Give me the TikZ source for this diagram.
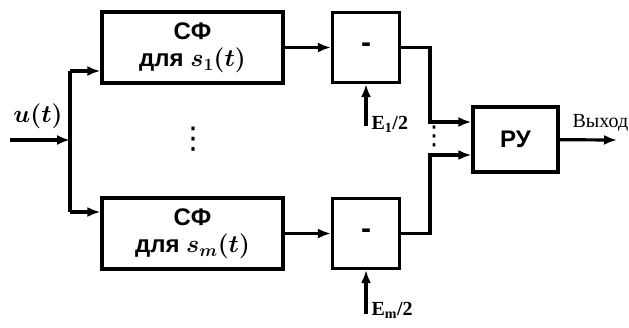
\documentclass[tikz,border=0pt]{standalone}
\usepackage{bm}
\usepackage{fontspec}
\setmainfont{Liberation Serif}
\setsansfont{Liberation Sans}
\newfontfamily\symfont{DejaVu Sans}
\usetikzlibrary{arrows.meta}

\begin{document}
\begin{tikzpicture}[x=1pt,y=-1pt,
  line width=3.2pt,
  arr/.style={-{Latex[length=13pt,width=10pt]}},
  block/.style={draw, rectangle, align=center, inner sep=0pt,
    font=\fontsize{24}{27}\selectfont\sffamily\bfseries},
  lbl/.style={font=\fontsize{20}{22}\selectfont\bfseries, inner sep=1pt}]

\useasboundingbox (0,0) rectangle (629,327);

% Matched filters
\node[block, minimum width=181pt, minimum height=71pt] (sf1) at (192.5,47.5) {СФ\\для $\bm{s_1(t)}$};
\node[block, minimum width=181pt, minimum height=71pt] (sfm) at (192.5,233.5) {СФ\\для $\bm{s_m(t)}$};

% Subtractors
\node[block, minimum width=67pt, minimum height=70pt, font=\fontsize{30}{30}\selectfont\sffamily\bfseries] (sub1) at (366,47.5) {-};
\node[block, minimum width=67pt, minimum height=70pt, font=\fontsize{30}{30}\selectfont\sffamily\bfseries] (subm) at (366,233.5) {-};

% Decision device
\node[block, minimum width=85pt, minimum height=65pt] (ru) at (515.5,139.5) {РУ};

% Input and branching
\coordinate (in) at (10,140);
\coordinate (br) at (70,140);
\coordinate (br1) at (70,71);
\coordinate (brm) at (70,212);
\node[font=\fontsize{24}{28}\selectfont] (u) at (38,116) {$\bm{u(t)}$};
\draw[arr] (in) -- (br);
\draw (br1) -- (brm);
\draw[arr] (br1) -- (br1 -| sf1.west);
\draw[arr] (brm) -- (brm -| sfm.west);

% Filter outputs
\draw[arr] (sf1) -- (sub1);
\draw[arr] (sfm) -- (subm);

% Thresholds
\coordinate (e1) at (366,126);
\coordinate (em) at (366,314);
\draw[arr] (e1) -- (sub1.south);
\draw[arr] (em) -- (subm.south);
\node[lbl, anchor=west] (e1l) at (369,124) {E\textsubscript{1}/2};
\node[lbl, anchor=west] (eml) at (369,310) {E\textsubscript{m}/2};

% To decision device
\coordinate (j1) at (430,122);
\coordinate (jm) at (430,155);
\draw[arr] (sub1.east) -| (j1) -- (j1 -| ru.west);
\draw[arr] (subm.east) -| (jm) -- (jm -| ru.west);

% Dots
\node[font=\fontsize{30}{30}\selectfont\symfont] (dots1) at (193,139) {⋮};
\node[font=\fontsize{26}{26}\selectfont\symfont] (dots2) at (434,136) {⋮};

% Output
\coordinate (out) at (617,140);
\draw[arr] (ru) -- (out);
\node[font=\fontsize{20}{22}\selectfont, anchor=south west, inner sep=0pt] (outl) at (571,133) {Выход};

\end{tikzpicture}
\end{document}
